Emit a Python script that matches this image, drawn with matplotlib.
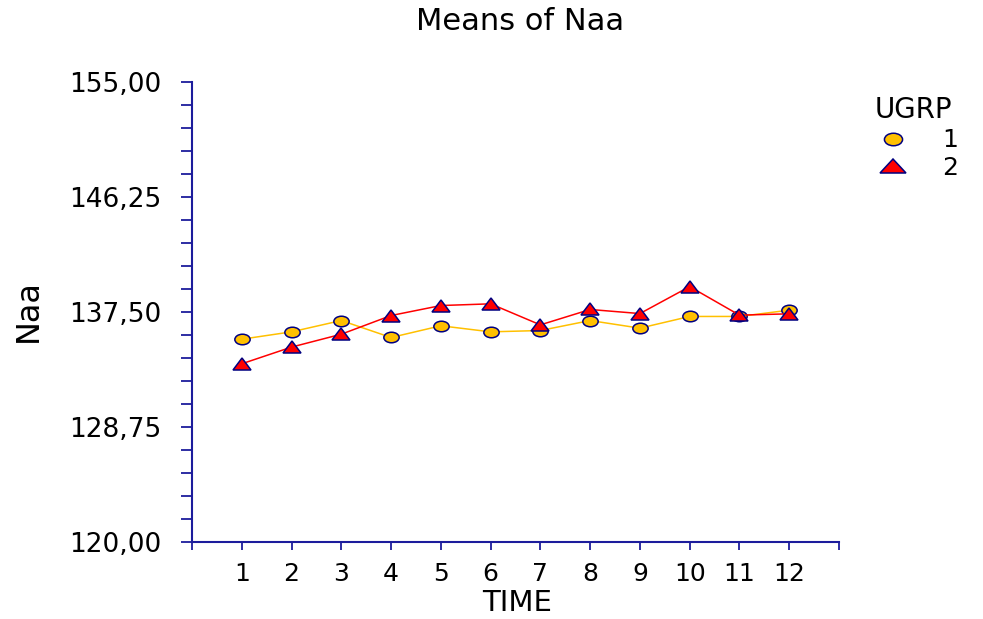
import matplotlib
matplotlib.use("Agg")
import matplotlib.pyplot as plt
from matplotlib.markers import MarkerStyle
from matplotlib.transforms import Affine2D
from matplotlib.lines import Line2D
from matplotlib.ticker import FixedLocator, FuncFormatter

# valores
time = [1, 2, 3, 4, 5, 6, 7, 8, 9, 10, 11, 12]
grp1 = [135.42, 135.98, 136.84, 135.55, 136.44, 135.98, 136.08, 136.84, 136.26, 137.15, 137.15, 137.63]
grp2 = [133.55, 134.82, 135.80, 137.22, 137.98, 138.11, 136.51, 137.68, 137.37, 139.42, 137.25, 137.35]
labels = ["1", "2"]
y_major = [120.0, 128.75, 137.5, 146.25, 155.0]

NAVY = "#000080"
AXIS = "#1c1c9c"
GOLD = "#ffc000"
RED = "#ff0000"

plt.rcParams["font.family"] = ["DejaVu Sans"]

fig = plt.figure(figsize=(9.83, 6.19), dpi=100)
ax = fig.add_axes([0.1953, 0.1244, 0.6582, 0.7436])

circ = MarkerStyle("o", transform=Affine2D().scale(1.45, 1.0))
tri = MarkerStyle("^", transform=Affine2D().scale(1.6, 1.0))

ax.plot(time, grp1, color=GOLD, lw=1.1, marker=circ, ms=7.6,
        mfc=GOLD, mec=NAVY, mew=1.1, zorder=3)
ax.plot(time, grp2, color=RED, lw=1.1, marker=tri, ms=8.5,
        mfc=RED, mec=NAVY, mew=1.1, zorder=4)

ax.set_xlim(0, 13)
ax.set_ylim(120, 155)

for s in ["top", "right"]:
    ax.spines[s].set_visible(False)
for s in ["left", "bottom"]:
    ax.spines[s].set_color(AXIS)
    ax.spines[s].set_linewidth(1.5)

ax.xaxis.set_major_locator(FixedLocator(time))
ax.xaxis.set_minor_locator(FixedLocator([0, 13]))
ax.yaxis.set_major_locator(FixedLocator(y_major))
ax.yaxis.set_minor_locator(FixedLocator([120 + 1.75 * i for i in range(21)]))
ax.yaxis.set_major_formatter(FuncFormatter(lambda v, p: f"{v:.2f}".replace(".", ",")))

ax.tick_params(axis="x", which="both", direction="out", length=5.5, width=1.3,
               color=AXIS, labelsize=18, pad=9)
ax.tick_params(axis="y", which="both", direction="out", length=8, width=1.3,
               color=AXIS, labelsize=19, pad=14)

fig.text(520 / 983, 1 - 21 / 619, "Means of Naa", fontsize=22, ha="center", va="center")
fig.text(517 / 983, 1 - 603 / 619, "TIME", fontsize=21, ha="center", va="center")
fig.text(28 / 983, 1 - 311 / 619, "Naa", fontsize=23, rotation=90, ha="center", va="center")

handles = [
    Line2D([], [], ls="none", marker=circ, ms=9, mfc=GOLD, mec=NAVY, mew=1.1),
    Line2D([], [], ls="none", marker=MarkerStyle("^", transform=Affine2D().scale(1.9, 1.0)),
           ms=10, mfc=RED, mec=NAVY, mew=1.1),
]
leg = fig.legend(handles, labels, title="UGRP", loc="upper left",
                 bbox_to_anchor=(855 / 983, 1 - 84 / 619), frameon=False,
                 fontsize=18, title_fontsize=20, handletextpad=1.0,
                 labelspacing=0.15, borderpad=0, handlelength=2)

fig.savefig("out.png", dpi=100)
